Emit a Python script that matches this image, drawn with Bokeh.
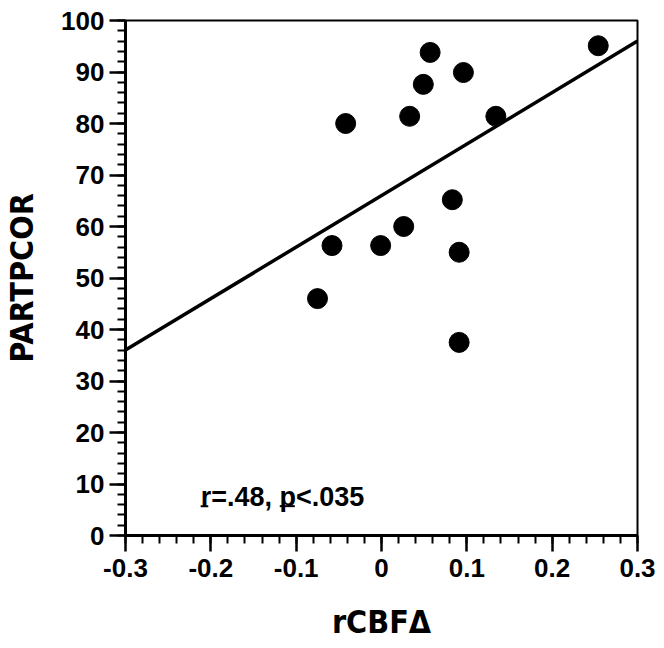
import numpy as np
from bokeh.plotting import figure
from bokeh.models import Range1d, FixedTicker, CustomJSTickFormatter, Label
from bokeh.embed import file_html
from bokeh.resources import INLINE

# data
rcbf = [-0.075, -0.058, -0.042, -0.001, 0.026, 0.033, 0.049, 0.057,
        0.083, 0.091, 0.091, 0.096, 0.134, 0.254]
partpcor = [46.0, 56.3, 80.0, 56.3, 60.0, 81.4, 87.6, 93.8,
            65.2, 55.0, 37.5, 89.9, 81.4, 95.1]
fit_x = [-0.3, 0.3]
fit_y = [36.0, 96.0]
x_ticks = [-0.3, -0.2, -0.1, 0.0, 0.1, 0.2, 0.3]
y_ticks = [0, 10, 20, 30, 40, 50, 60, 70, 80, 90, 100]
stat_text = "r=.48, p<.035"
# underline decorations under "r" and "p" in the statistic text
ul_x0 = [-0.2119, -0.1192]
ul_x1 = [-0.2030, -0.1016]
ul_y = [5.7, 5.7]

x_minor = [round(v, 2) for v in np.arange(-0.30, 0.301, 0.02)]
y_minor = list(range(0, 101, 2))

NARROW = "'Liberation Sans Narrow', 'DejaVu Sans Condensed', 'Roboto Condensed', 'Liberation Sans', sans-serif"

p = figure(width=664, height=648, output_backend="svg", toolbar_location=None,
           x_range=Range1d(-0.3, 0.3), y_range=Range1d(0, 100),
           min_border_left=125, min_border_right=27, min_border_top=20, min_border_bottom=113)
p.background_fill_color = "white"
p.border_fill_color = "white"
p.grid.visible = False
p.outline_line_color = "black"
p.outline_line_width = 2

p.xaxis.ticker = FixedTicker(ticks=x_ticks, minor_ticks=x_minor)
p.yaxis.ticker = FixedTicker(ticks=y_ticks, minor_ticks=y_minor)
p.xaxis.formatter = CustomJSTickFormatter(code="""
const v = Math.round(tick*10)/10;
return v === 0 ? "0" : v.toString();
""")

for ax in (p.xaxis[0], p.yaxis[0]):
    ax.axis_line_width = 3
    ax.axis_line_color = "black"
    ax.major_tick_line_width = 2.5
    ax.minor_tick_line_width = 2
    ax.major_tick_out = 16
    ax.major_tick_in = 0
    ax.minor_tick_out = 8
    ax.minor_tick_in = 0
    ax.major_label_text_font = "Liberation Sans"
    ax.major_label_text_font_style = "bold"
    ax.major_label_text_font_size = "26px"
    ax.major_label_text_color = "black"
    ax.axis_label_text_font = NARROW
    ax.axis_label_text_font_style = "bold"
    ax.axis_label_text_font_size = "32px"
    ax.axis_label_text_color = "black"

p.xaxis.major_label_standoff = 7
p.yaxis.major_label_standoff = 5
p.xaxis.axis_label = "rCBFΔ"
p.yaxis.axis_label = "PARTPCOR"
p.xaxis.axis_label_standoff = 23
p.yaxis.axis_label_standoff = 17

p.line(fit_x, fit_y, line_color="black", line_width=3.5)
p.scatter(rcbf, partpcor, size=20, fill_color="black", line_color="black")

lab = Label(x=-0.2119, y=7.4, text=stat_text, text_font="Liberation Sans",
            text_font_style="bold", text_font_size="27px", text_color="black",
            text_baseline="alphabetic")
p.add_layout(lab)
p.segment(ul_x0, ul_y, ul_x1, ul_y, line_color="black", line_width=2)

open("out.html", "w").write(file_html(p, INLINE))
